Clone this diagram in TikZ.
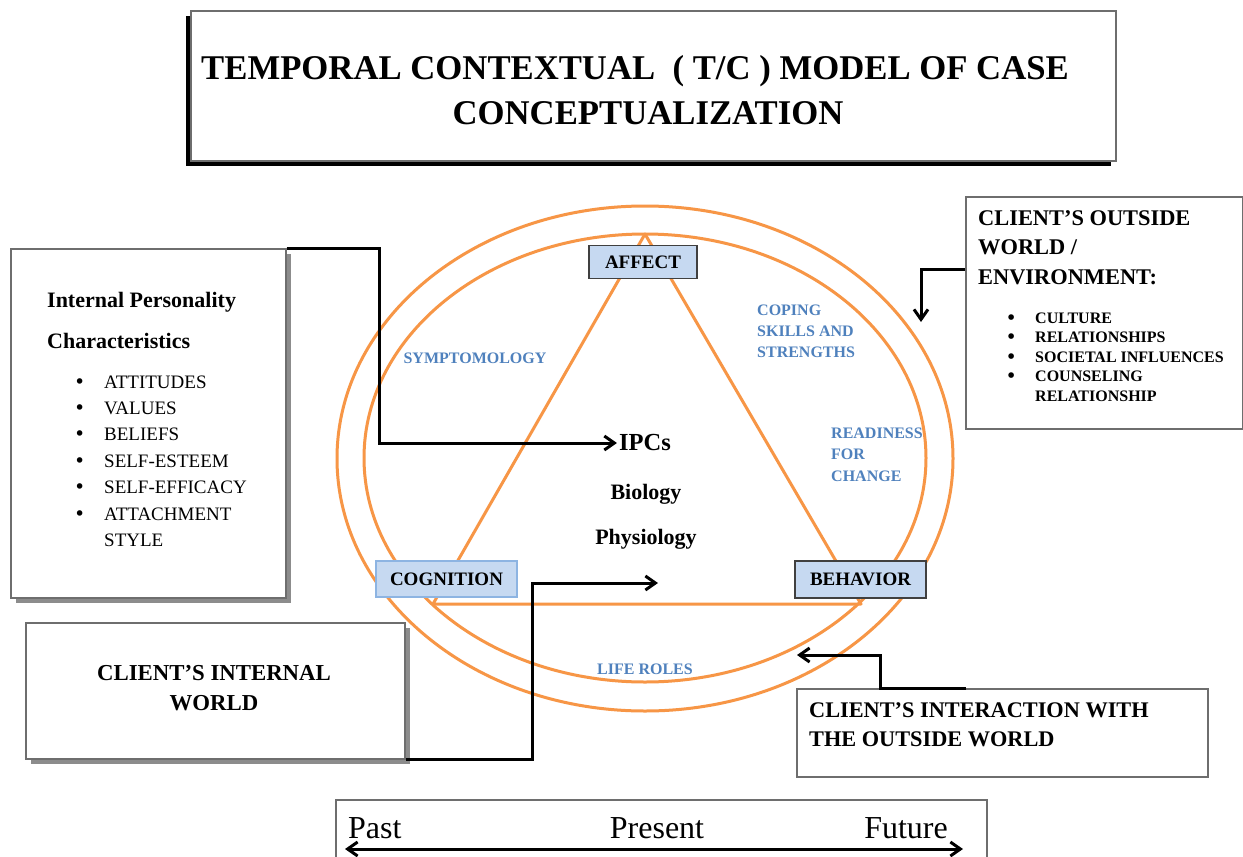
\documentclass[tikz,border=0pt]{standalone}
\usepackage{fontspec}
\setmainfont{Liberation Serif}
\newfontfamily\tcbulfont{DejaVu Sans}
\usetikzlibrary{arrows.meta,shadows}
\definecolor{tcorange}{RGB}{247,150,70}
\definecolor{tcfill}{RGB}{198,217,241}
\definecolor{tcblue}{RGB}{79,129,189}
\definecolor{tcedge}{RGB}{141,180,226}
\definecolor{tcgray}{RGB}{110,110,110}
\newcommand{\tcfs}[1]{\fontsize{#1}{#1}\selectfont}
\newcommand{\tcfss}[2]{\fontsize{#1}{#2}\selectfont}
\newcommand{\tcbul}{{\tcbulfont •}}
\begin{document}
\begin{tikzpicture}[x=1pt,y=-1pt,
  orangeline/.style={draw=tcorange, line width=3pt},
  conn/.style={draw=black, line width=3pt, -{Straight Barb[length=10pt,width=14pt]}},
  plainbox/.style={draw=tcgray, line width=1.5pt, fill=white, inner sep=0pt},
  shadowbox/.style={plainbox, drop shadow={shadow xshift=5pt, shadow yshift=-5pt, fill=black!45, opacity=1}},
  vertex/.style={draw=#1, fill=tcfill, line width=1.5pt, inner sep=0pt, font=\bfseries\tcfs{19}},
  bluelab/.style={text=tcblue, font=\bfseries\tcfs{16}, inner sep=0pt},
  txt/.style={inner sep=0pt},
]
\useasboundingbox[fill=white] (0,0) rectangle (1243,857);

% title
\node[plainbox, draw=tcgray, minimum width=925pt, minimum height=150pt, anchor=north west,
  drop shadow={shadow xshift=-5pt, shadow yshift=-5pt, fill=black, opacity=1}] (tb) at (190,10) {};
\node[txt, font=\bfseries\tcfs{34.7}, anchor=base] (t1) at (635,79) {TEMPORAL CONTEXTUAL\ \ ( T/C ) MODEL OF CASE};
\node[txt, font=\bfseries\tcfs{34.7}, anchor=base] (t2) at (648,124) {CONCEPTUALIZATION};

% ellipses and triangle
\draw[orangeline] (645,458.5) ellipse [x radius=308, y radius=252.5];
\draw[orangeline] (645,458) ellipse [x radius=281, y radius=224];
\coordinate (apex) at (645,234);
\coordinate (vleft) at (433,604);
\coordinate (vright) at (861,604);
\draw[orangeline, line join=round] (apex) -- (vright) -- (vleft) -- cycle;

% vertex boxes
\node[vertex=black!75, minimum width=108pt, minimum height=33pt] (aff) at (643,262) {AFFECT};
\node[vertex=tcedge, minimum width=141pt, minimum height=36pt] (cog) at (446.5,579) {COGNITION};
\node[vertex=black!75, minimum width=131pt, minimum height=37pt] (beh) at (860.5,579.5) {BEHAVIOR};

% blue labels
\node[bluelab] (sym) at (475,358) {SYMPTOMOLOGY};
\node[bluelab, font=\bfseries\tcfss{16}{21}, align=left, anchor=base west] (cope) at (757,357) {COPING\\SKILLS AND\\STRENGTHS};
\node[bluelab, font=\bfseries\tcfss{16}{21.5}, align=left, anchor=base west] (ready) at (831,481) {READINESS\\FOR\\CHANGE};
\node[bluelab] (life) at (645,669) {LIFE ROLES};

% center text
\node[txt, font=\bfseries\tcfs{24.5}] (ipcs) at (645,443) {IPCs};
\node[txt, font=\bfseries\tcfs{22}, anchor=base] (bio) at (646,499) {Biology};
\node[txt, font=\bfseries\tcfs{22}, anchor=base] (phys) at (646,544) {Physiology};

% left box
\node[shadowbox, minimum width=275pt, minimum height=349pt, anchor=north west] (ipb) at (10,248) {};
\node[txt, font=\bfseries\tcfss{22}{41}, align=left, anchor=base west] (iph) at (47,348) {Internal Personality\\Characteristics};
\node[txt, font=\tcfss{19}{26.4}, anchor=base west] (ipl) at (74,388) {\begin{tabular}[t]{@{}p{30pt}@{}l@{}}
\tcbul & ATTITUDES\\
\tcbul & VALUES\\
\tcbul & BELIEFS\\
\tcbul & SELF-ESTEEM\\
\tcbul & SELF-EFFICACY\\
\tcbul & ATTACHMENT\\
 & STYLE
\end{tabular}};

% client's internal world
\node[shadowbox, minimum width=379pt, minimum height=136pt, anchor=north west] (ciw) at (25,622) {};
\node[txt, font=\bfseries\tcfss{22.8}{30}, align=center, anchor=base] (ciwt) at (214,710) {CLIENT’S INTERNAL\\WORLD};

% outside world box
\node[plainbox, minimum width=277pt, minimum height=232pt, anchor=north west] (owb) at (965,196) {};
\node[txt, font=\bfseries\tcfss{22.4}{29.5}, align=left, anchor=base west] (owh) at (978,284) {CLIENT’S OUTSIDE\\WORLD /\\ENVIRONMENT:};
\node[txt, font=\bfseries\tcfss{16}{19.5}, anchor=base west] (owl) at (1006,323) {\begin{tabular}[t]{@{}p{29pt}@{}l@{}}
\tcbul & CULTURE\\
\tcbul & RELATIONSHIPS\\
\tcbul & SOCIETAL INFLUENCES\\
\tcbul & COUNSELING\\
 & RELATIONSHIP
\end{tabular}};

% interaction box
\node[plainbox, minimum width=411pt, minimum height=88pt, anchor=north west] (cio) at (796,688) {};
\node[txt, font=\bfseries\tcfss{22.3}{29}, align=left, anchor=base west] (ciot) at (809,746) {CLIENT’S INTERACTION WITH\\THE OUTSIDE WORLD};

% connectors
\coordinate (c2end) at (658,583);
\coordinate (c3end) at (921,322);
\coordinate (c4end) at (797,655);
\draw[conn] (ipb.north east) -- ++(93,0) |- ([xshift=-2pt]ipcs.west);
\draw[conn] (ciw.south east) -- ++(127,0) |- (c2end);
\draw[conn] ([yshift=-73pt]owb.north west) -| (c3end);
\draw[conn] ([xshift=170pt]cio.north west) -- ++(-86,0) |- (c4end);

% timeline
\draw[draw=tcgray, line width=1.5pt] (336,857) -- (336,800) -- (987,800) -- (987,857);
\node[txt, font=\tcfs{32}, anchor=base west] (past) at (348,838) {Past};
\node[txt, font=\tcfs{32}, anchor=base] (pres) at (657,838) {Present};
\node[txt, font=\tcfs{32}, anchor=base east] (fut) at (948,838) {Future};
\coordinate (tlA) at (345,849);
\coordinate (tlB) at (963,849);
\draw[line width=3pt, {Straight Barb[length=10pt,width=14pt]}-{Straight Barb[length=10pt,width=14pt]}] (tlA) -- (tlB);
\end{tikzpicture}
\end{document}
